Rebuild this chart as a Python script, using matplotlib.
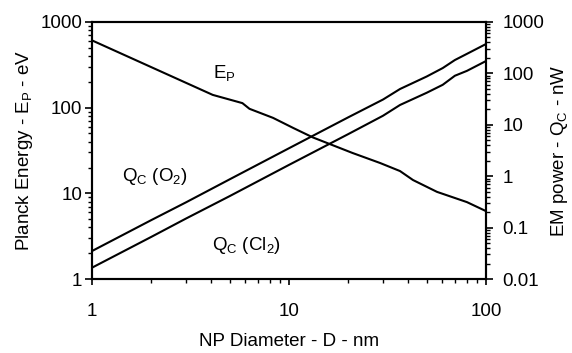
import matplotlib
matplotlib.use("Agg")
import matplotlib.pyplot as plt
from matplotlib.ticker import LogLocator, FuncFormatter, NullFormatter

plt.rcParams['font.family'] = ['Liberation Sans', 'DejaVu Sans']
plt.rcParams['mathtext.fontset'] = 'custom'
plt.rcParams['mathtext.rm'] = 'Liberation Sans'
plt.rcParams['mathtext.it'] = 'Liberation Sans'

# Data
d_ep = [1, 4.1, 5.8, 6.3, 8.3, 10.5, 13.2, 21, 29, 36.6, 42.6, 56.4, 80, 100]
ep = [610, 141, 113, 97, 76, 58, 45, 29.6, 22.6, 18.2, 14.3, 10.4, 7.9, 6.2]

d_q = [1, 2, 3, 5, 10, 20, 30, 36.6, 50, 60.3, 69.5, 80, 100]
q_o2 = [0.035, 0.14, 0.31, 0.87, 3.5, 14, 31, 49.7, 87, 127, 182, 240, 373]
q_cl2 = [0.0166, 0.066, 0.15, 0.41, 1.66, 6.6, 15, 24.3, 42, 60, 90, 112, 174]

FS = 13.5

fig = plt.figure(figsize=(5.72, 3.53), dpi=100)
ax = fig.add_axes([92/572, 1-279/353, (486-92)/572, (279-22)/353])
ax2 = ax.twinx()

lw = 1.5
ax.plot(d_ep, ep, color='black', lw=lw)
ax2.plot(d_q, q_o2, color='black', lw=lw)
ax2.plot(d_q, q_cl2, color='black', lw=lw)

fmt = FuncFormatter(lambda v, p: '%g' % v)
for a in (ax, ax2):
    a.set_xscale('log')
    a.set_yscale('log')
    for s in a.spines.values():
        s.set_linewidth(1.5)
ax.set_xlim(1, 100)
ax.set_ylim(1, 1000)
ax2.set_ylim(0.01, 1000)

ax.xaxis.set_major_locator(LogLocator(base=10))
ax.xaxis.set_major_formatter(fmt)
ax.yaxis.set_major_formatter(fmt)
ax2.yaxis.set_major_formatter(fmt)
ax.yaxis.set_minor_formatter(NullFormatter())
ax2.yaxis.set_minor_formatter(NullFormatter())
ax.xaxis.set_minor_formatter(NullFormatter())

ax.tick_params(axis='x', which='major', direction='out', length=4, width=1.2,
               labelsize=FS, pad=13, top=False)
ax.tick_params(axis='x', which='minor', direction='out', length=3, width=1, top=False)
ax.tick_params(axis='y', which='major', direction='out', length=5, width=1.2,
               labelsize=FS, pad=2)
ax.tick_params(axis='y', which='minor', direction='out', length=3, width=1)
ax2.tick_params(axis='y', which='major', direction='out', length=5, width=1.2,
                labelsize=FS, pad=7)
ax2.tick_params(axis='y', which='minor', direction='out', length=3, width=1)

ax.set_xlabel('NP Diameter - D - nm', fontsize=FS, labelpad=10)
ax.set_ylabel(r'Planck Energy - E$_\mathrm{P}$ - eV', fontsize=FS, labelpad=4)
ax2.set_ylabel(r'EM power - Q$_\mathrm{C}$ - nW', fontsize=FS, labelpad=3)

ax.text(0.307, 0.782, r'E$_\mathrm{P}$', transform=ax.transAxes, fontsize=FS,
        va='baseline', ha='left')
ax.text(0.076, 0.397, r'Q$_\mathrm{C}$ (O$_\mathrm{2}$)', transform=ax.transAxes,
        fontsize=FS, va='center', ha='left')
ax.text(0.305, 0.132, r'Q$_\mathrm{C}$ (Cl$_\mathrm{2}$)', transform=ax.transAxes,
        fontsize=FS, va='center', ha='left')

fig.savefig('out.png', dpi=100)
